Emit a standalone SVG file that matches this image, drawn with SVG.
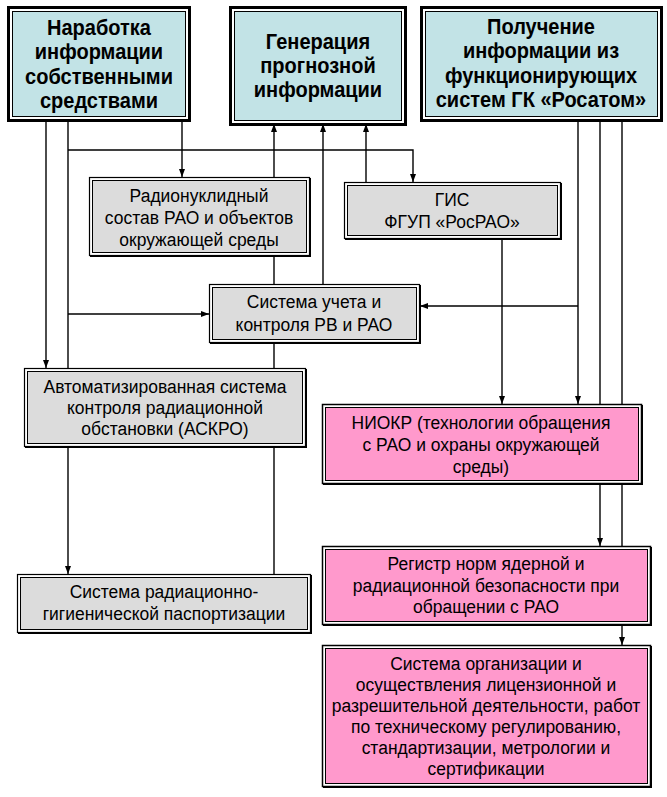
<svg xmlns="http://www.w3.org/2000/svg" width="667" height="797" viewBox="0 0 667 797">
<defs>
<marker id="ah" markerUnits="userSpaceOnUse" markerWidth="8" markerHeight="7" refX="8" refY="3.5" orient="auto">
<path d="M0,0.5 L8,3.5 L0,6.5 z" fill="#000"/>
</marker>
<style>
.c{fill:none;stroke:#000;stroke-width:1.4}
.a{marker-end:url(#ah)}
.to{fill:#fff;stroke:#000;stroke-width:3}
.ti{fill:#C2E3E6;stroke:#000;stroke-width:1}
.go{fill:#fff;stroke:#000;stroke-width:1.2}
.gi{fill:#DCDCDC;stroke:#000;stroke-width:1}
.po{fill:#fff;stroke:#000;stroke-width:1.5}
.pi{fill:#FF99CC;stroke:#000;stroke-width:1}
.sh{fill:none;stroke:#000;stroke-width:2}
.tb{font-family:"Liberation Sans",Arial,sans-serif;font-weight:bold;font-size:22px;text-anchor:middle;fill:#000}
.tn{font-family:"Liberation Sans",Arial,sans-serif;font-size:19px;text-anchor:middle;fill:#000}
</style>
</defs>
<rect width="667" height="797" fill="#fff"/>
<g id="connectors">
<path class="c a" d="M46,120 V368"/>
<path class="c a" d="M68,120 V574"/>
<path class="c a" d="M68,150 H413 V182"/>
<path class="c a" d="M182,120 V177"/>
<path class="c a" d="M68,314 H209"/>
<path class="c a" d="M274,574 V124"/>
<path class="c a" d="M323,284 V124"/>
<path class="c a" d="M366,182 V124"/>
<path class="c a" d="M502,238 V404"/>
<path class="c a" d="M578,120 V404"/>
<path class="c a" d="M578,306 H420"/>
<path class="c a" d="M600,120 V546"/>
<path class="c a" d="M622,120 V645"/>
</g>
<g id="n1">
<rect class="to" x="8.5" y="7.5" width="181" height="113"/>
<rect class="ti" x="12.5" y="11.5" width="173" height="105"/>
<g transform="translate(99 0) scale(0.91 1)">
<text class="tb" x="0" y="35">Наработка</text>
<text class="tb" x="0" y="59">информации</text>
<text class="tb" x="0" y="84">собственными</text>
<text class="tb" x="0" y="108">средствами</text>
</g>
</g>
<g id="n2">
<rect class="to" x="230.5" y="7.5" width="175" height="117"/>
<rect class="ti" x="234.5" y="11.5" width="167" height="109"/>
<g transform="translate(318 0) scale(0.91 1)">
<text class="tb" x="0" y="49">Генерация</text>
<text class="tb" x="0" y="73">прогнозной</text>
<text class="tb" x="0" y="97">информации</text>
</g>
</g>
<g id="n3">
<rect class="to" x="421.5" y="7.5" width="240" height="113"/>
<rect class="ti" x="425.5" y="11.5" width="232" height="105"/>
<g transform="translate(541 0) scale(0.91 1)">
<text class="tb" x="0" y="34">Получение</text>
<text class="tb" x="0" y="58">информации из</text>
<text class="tb" x="0" y="83">функционирующих</text>
<text class="tb" x="0" y="107">систем ГК «Росатом»</text>
</g>
</g>
<g id="n4">
<rect class="go" x="89.5" y="177.5" width="220" height="78"/>
<path class="sh" d="M90,256 H310 V178"/>
<rect class="gi" x="92.5" y="180.5" width="214" height="72"/>
<g transform="translate(199 0) scale(0.92 1)">
<text class="tn" x="0" y="202">Радионуклидный</text>
<text class="tn" x="0" y="224">состав РАО и объектов</text>
<text class="tn" x="0" y="246">окружающей среды</text>
</g>
</g>
<g id="n5">
<rect class="go" x="344.5" y="182.5" width="216" height="56"/>
<path class="sh" d="M345,239 H561 V183"/>
<rect class="gi" x="347.5" y="185.5" width="210" height="50"/>
<g transform="translate(452 0) scale(0.92 1)">
<text class="tn" x="0" y="206">ГИС</text>
<text class="tn" x="0" y="228">ФГУП «РосРАО»</text>
</g>
</g>
<g id="n6">
<rect class="go" x="209.5" y="284.5" width="210" height="58"/>
<path class="sh" d="M210,343 H420 V285"/>
<rect class="gi" x="212.5" y="287.5" width="204" height="52"/>
<g transform="translate(314 0) scale(0.92 1)">
<text class="tn" x="0" y="308">Система учета и</text>
<text class="tn" x="0" y="331">контроля РВ и РАО</text>
</g>
</g>
<g id="n7">
<rect class="go" x="24.5" y="368.5" width="281" height="78"/>
<path class="sh" d="M25,447 H306 V369"/>
<rect class="gi" x="27.5" y="371.5" width="275" height="72"/>
<g transform="translate(165 0) scale(0.92 1)">
<text class="tn" x="0" y="393">Автоматизированная система</text>
<text class="tn" x="0" y="414">контроля радиационной</text>
<text class="tn" x="0" y="435">обстановки (АСКРО)</text>
</g>
</g>
<g id="n8">
<rect class="go" x="17.5" y="574.5" width="293" height="58"/>
<path class="sh" d="M18,633 H311 V575"/>
<rect class="gi" x="20.5" y="577.5" width="287" height="52"/>
<g transform="translate(164 0) scale(0.92 1)">
<text class="tn" x="0" y="598">Система радиационно-</text>
<text class="tn" x="0" y="620">гигиенической паспортизации</text>
</g>
</g>
<g id="n9">
<rect class="po" x="322.5" y="404.5" width="319" height="79"/>
<path class="sh" d="M323,484 H642 V405"/>
<rect class="pi" x="325.5" y="407.5" width="313" height="73"/>
<g transform="translate(481 0) scale(0.92 1)">
<text class="tn" x="0" y="429">НИОКР (технологии обращения</text>
<text class="tn" x="0" y="451">с РАО и охраны окружающей</text>
<text class="tn" x="0" y="473">среды)</text>
</g>
</g>
<g id="n10">
<rect class="po" x="322.5" y="546.5" width="328" height="78"/>
<path class="sh" d="M323,625 H651 V547"/>
<rect class="pi" x="325.5" y="549.5" width="322" height="72"/>
<g transform="translate(486 0) scale(0.92 1)">
<text class="tn" x="0" y="570">Регистр норм ядерной и</text>
<text class="tn" x="0" y="592">радиационной безопасности при</text>
<text class="tn" x="0" y="613">обращении с РАО</text>
</g>
</g>
<g id="n11">
<rect class="po" x="322.5" y="645.5" width="328" height="141"/>
<path class="sh" d="M323,787 H651 V646"/>
<rect class="pi" x="325.5" y="648.5" width="322" height="135"/>
<g transform="translate(486 0) scale(0.92 1)">
<text class="tn" x="0" y="670">Система организации и</text>
<text class="tn" x="0" y="691">осуществления лицензионной и</text>
<text class="tn" x="0" y="712">разрешительной деятельности, работ</text>
<text class="tn" x="0" y="733">по техническому регулированию,</text>
<text class="tn" x="0" y="754">стандартизации, метрологии и</text>
<text class="tn" x="0" y="775">сертификации</text>
</g>
</g>
</svg>
